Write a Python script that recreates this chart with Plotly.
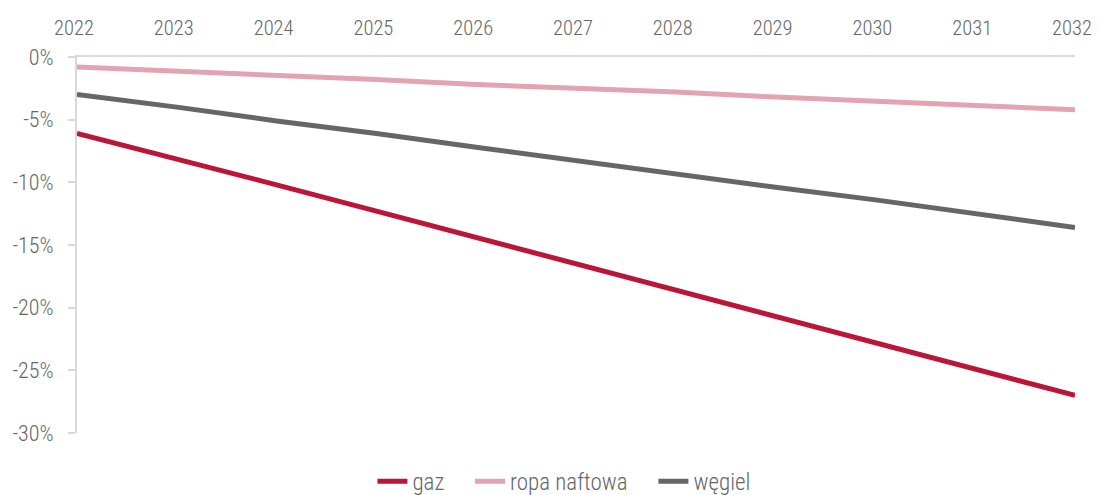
import plotly.graph_objects as go

years = list(range(2022, 2033))
gaz = [-6.1, -8.1, -10.2, -12.3, -14.4, -16.5, -18.6, -20.7, -22.8, -24.9, -27.0]
ropa = [-0.8, -1.1, -1.5, -1.8, -2.2, -2.5, -2.8, -3.2, -3.5, -3.9, -4.2]
wegiel = [-3.0, -4.0, -5.1, -6.1, -7.2, -8.3, -9.3, -10.4, -11.4, -12.5, -13.6]
y_ticks = [0, -5, -10, -15, -20, -25, -30]
y_labels = ["0%", "-5%", "-10%", "-15%", "-20%", "-25%", "-30%"]

FONT = "Roboto Condensed, Liberation Sans Narrow, Roboto, sans-serif"
fig = go.Figure()
series = [("gaz", gaz, "#BB1636"), ("ropa naftowa", ropa, "#E3A3B0"), ("węgiel", wegiel, "#666666")]
for i, (name, vals, col) in enumerate(series):
    label = name if i == len(series) - 1 else name + "    "
    fig.add_trace(go.Scatter(x=years, y=vals, name=label, mode="lines",
                             line=dict(color=col, width=5)))

fig.update_layout(
    width=1091, height=487,
    margin=dict(l=69, r=24, t=49, b=62),
    paper_bgcolor="white", plot_bgcolor="white",
    font=dict(family=FONT, size=23, color="#666666", weight=300),
    showlegend=True,
    legend=dict(orientation="h", x=0.51, xanchor="center", xref="container",
                y=0.028, yanchor="middle", yref="container",
                font=dict(size=23, color="#666666"), itemwidth=30, traceorder="normal"),
)
fig.update_xaxes(side="top", range=[2022, 2032], tickvals=years, ticktext=[str(y) for y in years],
                 tickfont=dict(size=20.5), ticklabelshift=-3,
                 showline=True, linecolor="#d9d9d9", linewidth=2, showgrid=False, zeroline=False,
                 ticks="", ticklabelstandoff=12, automargin=False)
fig.update_yaxes(range=[-30, 0], tickvals=y_ticks, ticktext=y_labels,
                 tickfont=dict(size=22),
                 showline=True, linecolor="#d9d9d9", linewidth=2, showgrid=False, zeroline=False,
                 ticks="outside", ticklen=7, tickcolor="#d9d9d9", tickwidth=2, ticklabelstandoff=10,
                 automargin=False)

fig.write_html("out.html")
